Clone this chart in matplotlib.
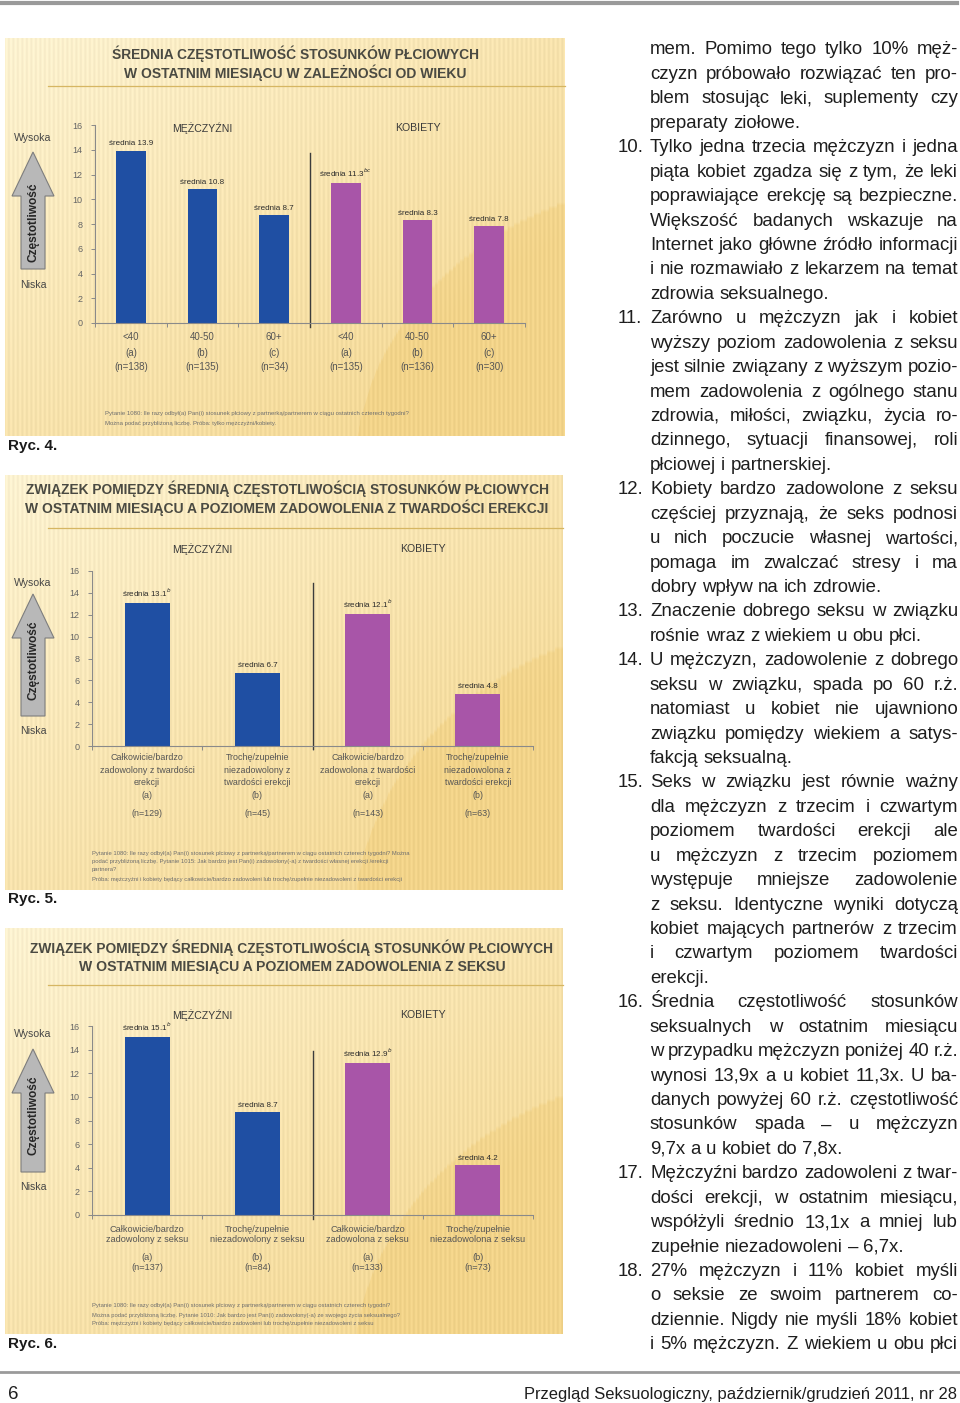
import numpy as np
import matplotlib
matplotlib.use("Agg")
import matplotlib.pyplot as plt
from matplotlib import transforms
from matplotlib.patches import Polygon

W, H = 960, 1403

SANS = ["Liberation Sans", "DejaVu Sans"]
NARROW = ["Liberation Sans Narrow", "Liberation Sans", "DejaVu Sans"]
BLUE = "#1f4fa3"
PURPLE = "#a855a8"
GRAY_TXT = "#555555"

# =====================================================
# DANE - Ryc. 4 (wiek)
# =====================================================
age_groups = ["<40", "40-50", "60+", "<40", "40-50", "60+"]
age_letters = ["(a)", "(b)", "(c)", "(a)", "(b)", "(c)"]
age_n = [138, 135, 34, 135, 136, 30]
age_means = [13.9, 10.8, 8.7, 11.3, 8.3, 7.8]
age_sup = ["", "", "", "bc", "", ""]
age_sex = ["M", "M", "M", "K", "K", "K"]

# =====================================================
# DANE - Ryc. 5 (twardość erekcji)
# =====================================================
erec_groups = ["Całkowicie/bardzo\nzadowolony z twardości\nerekcji",
               "Trochę/zupełnie\nniezadowolony z\ntwardości erekcji",
               "Całkowicie/bardzo\nzadowolona z twardości\nerekcji",
               "Trochę/zupełnie\nniezadowolona z\ntwardości erekcji"]
erec_letters = ["(a)", "(b)", "(a)", "(b)"]
erec_n = [129, 45, 143, 63]
erec_means = [13.1, 6.7, 12.1, 4.8]
erec_sup = ["b", "", "b", ""]
erec_sex = ["M", "M", "K", "K"]

# =====================================================
# DANE - Ryc. 6 (zadowolenie z seksu)
# =====================================================
sex_groups = ["Całkowicie/bardzo\nzadowolony z seksu",
              "Trochę/zupełnie\nniezadowolony z seksu",
              "Całkowicie/bardzo\nzadowolona z seksu",
              "Trochę/zupełnie\nniezadowolona z seksu"]
sex_letters = ["(a)", "(b)", "(a)", "(b)"]
sex_n = [137, 84, 133, 73]
sex_means = [15.1, 8.7, 12.9, 4.2]
sex_sup = ["b", "", "b", ""]
sex_sex = ["M", "M", "K", "K"]

y_ticks = [0, 2, 4, 6, 8, 10, 12, 14, 16]

notes_4 = ["Pytanie 1080: Ile razy odbył(a) Pan(i) stosunek płciowy z partnerką/partnerem w ciągu ostatnich czterech tygodni?",
           "Można podać przybliżoną liczbę. Próba: tylko mężczyźni/kobiety."]
notes_5 = ["Pytanie 1080: Ile razy odbył(a) Pan(i) stosunek płciowy z partnerką/partnerem w ciągu ostatnich czterech tygodni? Można",
           "podać przybliżoną liczbę. Pytanie 1015: Jak bardzo jest Pan(i) zadowolony(-a) z twardości własnej erekcji /erekcji",
           "partnera?",
           "Próba: mężczyźni i kobiety będący całkowicie/bardzo zadowoleni lub trochę/zupełnie niezadowoleni z twardości erekcji"]
notes_6 = ["Pytanie 1080: Ile razy odbył(a) Pan(i) stosunek płciowy z partnerką/partnerem w ciągu ostatnich czterech tygodni?",
           "Można podać przybliżoną liczbę. Pytanie 1010: Jak bardzo jest Pan(i) zadowolony(-a) ze swojego życia seksualnego?",
           "Próba: mężczyźni i kobiety będący całkowicie/bardzo zadowoleni lub trochę/zupełnie niezadowoleni z seksu"]

# tekst kolumny (numer, linia, wyjustowana?)
text_lines = [
    ("", "mem. Pomimo tego tylko 10% męż-", True),
    ("", "czyzn próbowało rozwiązać ten pro-", True),
    ("", "blem stosując leki, suplementy czy", True),
    ("", "preparaty ziołowe.", False),
    ("10.", "Tylko jedna trzecia mężczyzn i jedna", True),
    ("", "piąta kobiet zgadza się z tym, że leki", True),
    ("", "poprawiające erekcję są bezpieczne.", True),
    ("", "Większość badanych wskazuje na", True),
    ("", "Internet jako główne źródło informacji", True),
    ("", "i nie rozmawiało z lekarzem na temat", True),
    ("", "zdrowia seksualnego.", False),
    ("11.", "Zarówno u mężczyzn jak i kobiet", True),
    ("", "wyższy poziom zadowolenia z seksu", True),
    ("", "jest silnie związany z wyższym pozio-", True),
    ("", "mem zadowolenia z ogólnego stanu", True),
    ("", "zdrowia, miłości, związku, życia ro-", True),
    ("", "dzinnego, sytuacji finansowej, roli", True),
    ("", "płciowej i partnerskiej.", False),
    ("12.", "Kobiety bardzo zadowolone z seksu", True),
    ("", "częściej przyznają, że seks podnosi", True),
    ("", "u nich poczucie własnej wartości,", True),
    ("", "pomaga im zwalczać stresy i ma", True),
    ("", "dobry wpływ na ich zdrowie.", False),
    ("13.", "Znaczenie dobrego seksu w związku", True),
    ("", "rośnie wraz z wiekiem u obu płci.", False),
    ("14.", "U mężczyzn, zadowolenie z dobrego", True),
    ("", "seksu w związku, spada po 60 r.ż.", True),
    ("", "natomiast u kobiet nie ujawniono", True),
    ("", "związku pomiędzy wiekiem a satys-", True),
    ("", "fakcją seksualną.", False),
    ("15.", "Seks w związku jest równie ważny", True),
    ("", "dla mężczyzn z trzecim i czwartym", True),
    ("", "poziomem twardości erekcji ale", True),
    ("", "u mężczyzn z trzecim poziomem", True),
    ("", "występuje mniejsze zadowolenie", True),
    ("", "z seksu. Identyczne wyniki dotyczą", True),
    ("", "kobiet mających partnerów z trzecim", True),
    ("", "i czwartym poziomem twardości", True),
    ("", "erekcji.", False),
    ("16.", "Średnia częstotliwość stosunków", True),
    ("", "seksualnych w ostatnim miesiącu", True),
    ("", "w przypadku mężczyzn poniżej 40 r.ż.", True),
    ("", "wynosi 13,9x a u kobiet 11,3x. U ba-", True),
    ("", "danych powyżej 60 r.ż. częstotliwość", True),
    ("", "stosunków spada – u mężczyzn", True),
    ("", "9,7x a u kobiet do 7,8x.", False),
    ("17.", "Mężczyźni bardzo zadowoleni z twar-", True),
    ("", "dości erekcji, w ostatnim miesiącu,", True),
    ("", "współżyli średnio 13,1x a mniej lub", True),
    ("", "zupełnie niezadowoleni – 6,7x.", False),
    ("18.", "27% mężczyzn i 11% kobiet myśli", True),
    ("", "o seksie ze swoim partnerem co-", True),
    ("", "dziennie. Nigdy nie myśli 18% kobiet", True),
    ("", "i 5% mężczyzn. Z wiekiem u obu płci", True),
]

# =====================================================
# STRONA
# =====================================================
fig = plt.figure(figsize=(W / 100, H / 100), dpi=100)
page = fig.add_axes([0, 0, 1, 1])
page.set_xlim(0, W)
page.set_ylim(H, 0)
page.set_autoscale_on(False)
page.axis("off")
renderer = fig.canvas.get_renderer()


def text_width(t):
    return t.get_window_extent(renderer).width


def fit_text(x, y, s, width, size, **kw):
    t = page.text(x, y, s, fontsize=size, **kw)
    t.set_fontsize(size * width / text_width(t))
    return t


def panel_background(x0, y0, x1, y1):
    nx, ny = int(x1 - x0), 120
    xs = np.linspace(0, 1, nx)[None, :]
    ys = np.linspace(0, 1, ny)[:, None]
    t = 0.5 * xs + 0.5 * ys
    # ciemniejszy łuk po prawej stronie
    arc = np.clip((np.hypot((xs - 1.25) * 1.2, ys - 1.1) < 0.75) * 1.0, 0, 1) * 0.25
    t = np.clip(t + arc, 0, 1)
    light = np.array([0.99, 0.95, 0.82])
    dark = np.array([0.95, 0.83, 0.54])
    img = light + (dark - light) * t[..., None]
    stripes = 0.022 * np.sin(np.arange(nx) * 2 * np.pi / 4.5)[None, :, None]
    img = np.clip(img + stripes, 0, 1)
    page.imshow(img, extent=(x0, x1, y1, y0), aspect="auto", zorder=0,
                interpolation="bilinear")


def draw_arrow(cx, tip, base, text_cy):
    pts = [(cx, tip), (cx + 21, tip + 44), (cx + 12, tip + 44), (cx + 12, base),
           (cx - 12, base), (cx - 12, tip + 44), (cx - 21, tip + 44)]
    page.add_patch(Polygon(pts, closed=True, facecolor="#b8b8b8",
                           edgecolor="#7d7d7d", lw=0.8, zorder=2))
    page.text(cx, text_cy, "Częstotliwość", rotation=90, ha="center", va="center",
              fontsize=8.6, fontweight="bold", family=SANS, color="#262626", zorder=3)


# -------------------------------------------------
# JEDEN WYKRES
# -------------------------------------------------
def draw_panel(box, titles, title_y, title_w, title_cx, rule_y, ax_box,
               groups, letters, ns, means, sups, sexes, bar_w, sep_top,
               group_pos, group_y, label_y, label_dy, letter_y, n_y, cat_size,
               arrow, wys_y, nis_y, notes, notes_x, notes_y, notes_size, ryc, ryc_y):
    x0, y0, x1, y1 = box
    panel_background(x0, y0, x1, y1)

    for s, ty, tw in zip(titles, title_y, title_w):
        fit_text(title_cx, ty, s, tw, 12, ha="center", va="center",
                 fontweight="bold", family=NARROW, color="#4a4a42")
    page.plot([48, x1], [rule_y, rule_y], color="#d6b662", lw=0.9)

    # osie wykresu
    ax_x0, ax_x1, y16, yzero = ax_box
    ax = fig.add_axes([ax_x0 / W, 1 - yzero / H, (ax_x1 - ax_x0) / W, (yzero - y16) / H])
    ax.patch.set_alpha(0)
    n = len(means)
    colors = [BLUE if s == "M" else PURPLE for s in sexes]
    ax.bar(range(n), means, width=bar_w, color=colors, zorder=2)
    ax.set_xlim(-0.5, n - 0.5)
    ax.set_ylim(0, 16)
    ax.set_yticks(y_ticks)
    ax.set_yticklabels([str(v) for v in y_ticks], fontsize=6.5, color="#666666",
                       family=SANS)
    ax.set_xticks(np.arange(n + 1) - 0.5)
    ax.set_xticklabels([])
    ax.tick_params(axis="both", direction="out", length=3, width=0.7,
                   color="#8a8a8a", pad=6)
    for side in ["top", "right"]:
        ax.spines[side].set_visible(False)
    for side in ["left", "bottom"]:
        ax.spines[side].set_color("#8a8a8a")
        ax.spines[side].set_linewidth(0.8)

    sep = n / 2 - 0.5
    ax.plot([sep, sep], [-0.3, sep_top], color="#3c3c3c", lw=1.0, clip_on=False)

    for i, (v, sup) in enumerate(zip(means, sups)):
        label = f"średnia {v:.1f}" + (f"$^{{{sup}}}$" if sup else "")
        ax.text(i, v + 0.3, label, ha="center", va="bottom", fontsize=5.8,
                family=SANS, color="#2a2a2a")

    trans = transforms.blended_transform_factory(ax.transData, page.transData)
    page.text(group_pos[0], group_y, "MĘŻCZYŹNI", transform=trans, ha="center",
              va="center", fontsize=7.6, family=SANS, color="#3a3a3a")
    page.text(group_pos[1], group_y, "KOBIETY", transform=trans, ha="center",
              va="center", fontsize=7.6, family=SANS, color="#3a3a3a")

    for i, (g, let, nn) in enumerate(zip(groups, letters, ns)):
        for k, part in enumerate(g.split("\n")):
            page.text(i, label_y + k * label_dy, part, transform=trans, ha="center",
                      va="center", fontsize=cat_size, family=SANS, color=GRAY_TXT)
        page.text(i, letter_y, let, transform=trans, ha="center", va="center",
                  fontsize=cat_size, family=SANS, color=GRAY_TXT)
        page.text(i, n_y, f"(n={nn})", transform=trans, ha="center", va="center",
                  fontsize=cat_size, family=SANS, color=GRAY_TXT)

    # strzałka + Wysoka / Niska
    draw_arrow(*arrow)
    page.text(33, wys_y, "Wysoka", ha="center", va="center", fontsize=7.6,
              family=SANS, color="#474747")
    page.text(33, nis_y, "Niska", ha="center", va="center", fontsize=7.6,
              family=SANS, color="#474747")

    for s, ny_ in zip(notes, notes_y):
        page.text(notes_x, ny_, s, ha="left", va="center", fontsize=notes_size,
                  family=SANS, color="#6e6e6e")

    page.text(8, ryc_y, ryc, ha="left", va="center", fontsize=11,
              fontweight="bold", family=NARROW, color="#1a1a1a")


draw_panel((5, 38, 565, 436),
           ["ŚREDNIA CZĘSTOTLIWOŚĆ STOSUNKÓW PŁCIOWYCH",
            "W OSTATNIM MIESIĄCU W ZALEŻNOŚCI OD WIEKU"],
           [54, 73], [364, 344], 295, 86,
           (95, 525, 125, 323),
           age_groups, age_letters, age_n, age_means, age_sup, age_sex, 0.41, 13.7,
           (1, 4), 128, 337, 0, 353, 367, 7.0,
           (33, 152, 269, 222), 138, 285,
           notes_4, 105, [414, 423], 4.3, "Ryc. 4.", 446)

draw_panel((5, 475, 563, 890),
           ["ZWIĄZEK POMIĘDZY ŚREDNIĄ CZĘSTOTLIWOŚCIĄ STOSUNKÓW PŁCIOWYCH",
            "W OSTATNIM MIESIĄCU A POZIOMEM ZADOWOLENIA Z TWARDOŚCI EREKCJI"],
           [489, 508], [523, 523], 287, 528,
           (92, 533, 571, 746),
           erec_groups, erec_letters, erec_n, erec_means, erec_sup, erec_sex, 0.41, 14.9,
           (0.5, 2.5), 549, 758, 12.3, 795, 813, 6.4,
           (33, 594, 716, 660), 583, 731,
           notes_5, 92, [853, 862, 870, 879], 4.2, "Ryc. 5.", 899)

draw_panel((5, 928, 563, 1334),
           ["ZWIĄZEK POMIĘDZY ŚREDNIĄ CZĘSTOTLIWOŚCIĄ STOSUNKÓW PŁCIOWYCH",
            "W OSTATNIM MIESIĄCU A POZIOMEM ZADOWOLENIA Z SEKSU"],
           [948, 967], [521, 425], 292, 985,
           (92, 533, 1026, 1215),
           sex_groups, sex_letters, sex_n, sex_means, sex_sup, sex_sex, 0.41, 13.9,
           (0.5, 2.5), 1015, 1229, 10.5, 1257, 1268, 6.6,
           (33, 1049, 1172, 1115), 1034, 1187,
           notes_6, 92, [1306, 1315, 1324], 4.2, "Ryc. 6.", 1344)

# =====================================================
# KOLUMNA TEKSTU (justowanie)
# =====================================================
col_x0, col_x1, num_x = 650, 958, 618
base0, step = 54.5, 24.43
size = 13.4
probe = page.text(0, 0, "x", fontsize=size, family=NARROW)


def w_of(s):
    probe.set_text(s)
    return text_width(probe)


space = w_of("x x") - w_of("xx")
# najciaśniejsza linia może mieć odstępy węższe niż zwykła spacja
natural = max(sum(w_of(w) for w in line.split()) + 0.55 * space * (len(line.split()) - 1)
              for _, line, _ in text_lines)
scale = min(1.0, (col_x1 - col_x0) / natural * 0.995)
size *= scale
space *= scale
probe.remove()

for i, (num, line, just) in enumerate(text_lines):
    y = base0 + i * step
    if num:
        page.text(num_x, y, num, fontsize=size, family=NARROW, va="baseline",
                  ha="left", color="#1e1e1e")
    words = line.split()
    ts = [page.text(0, y, w, fontsize=size, family=NARROW, va="baseline",
                    ha="left", color="#1e1e1e") for w in words]
    ws = [text_width(t) for t in ts]
    if just and len(ws) > 1:
        gap = (col_x1 - col_x0 - sum(ws)) / (len(ws) - 1)
    else:
        gap = space
    x = col_x0
    for t, w in zip(ts, ws):
        t.set_x(x)
        x += w + gap

# linie i stopka
page.plot([0, 957], [2.5, 2.5], color="#9a9a9a", lw=3)
page.plot([0, 960], [1372, 1372], color="#9a9a9a", lw=2)
page.text(8, 1399, "6", fontsize=size, family=NARROW, va="baseline", ha="left",
          color="#1e1e1e")
fit_text(957, 1399, "Przegląd Seksuologiczny, październik/grudzień 2011, nr 28", 430,
         size, family=NARROW, va="baseline", ha="right", color="#1e1e1e")

page.set_xlim(0, W)
page.set_ylim(H, 0)
fig.savefig("out.png", dpi=100)
